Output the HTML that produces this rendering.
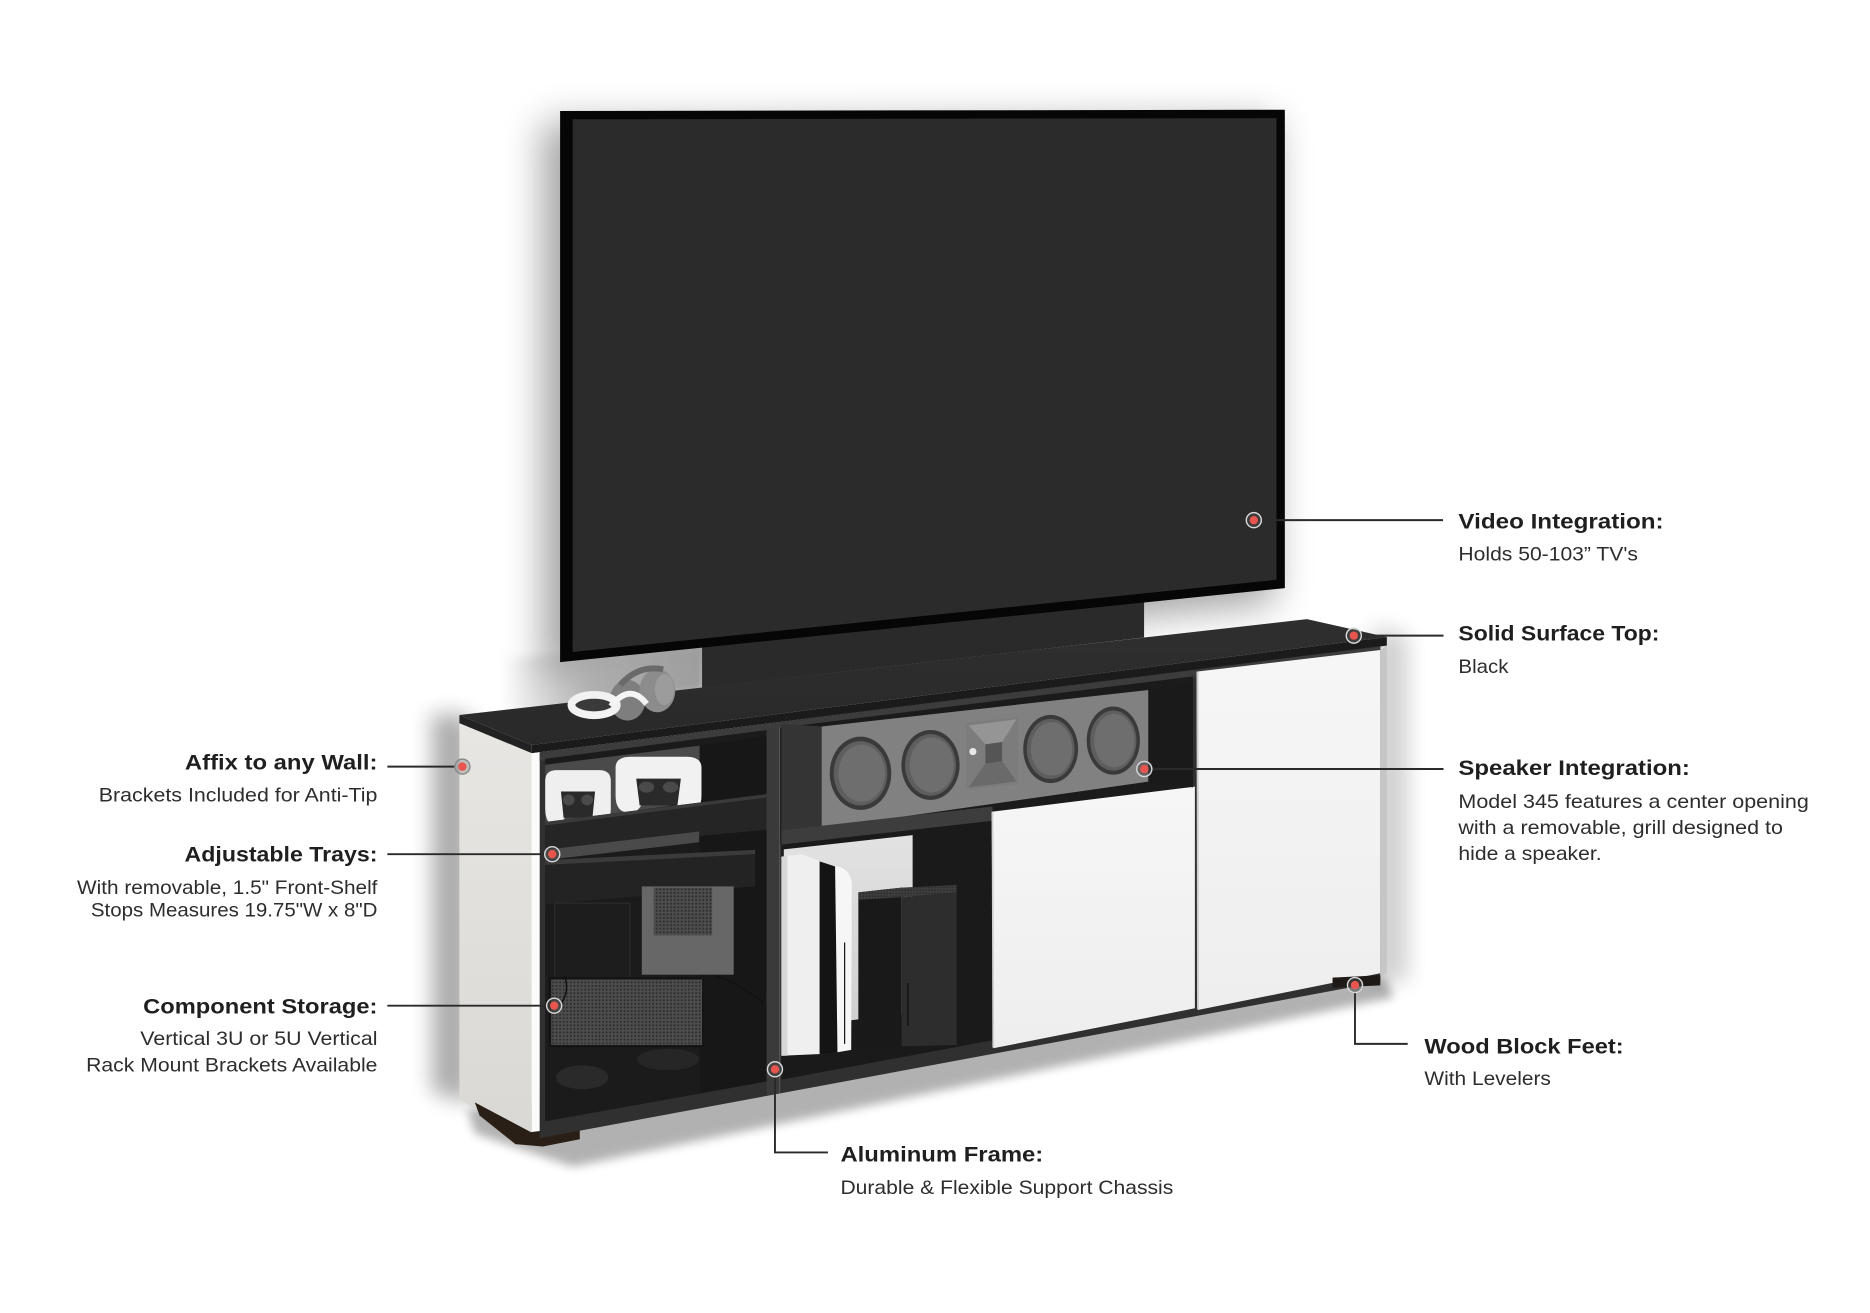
<!DOCTYPE html>
<html><head><meta charset="utf-8">
<style>
html,body{margin:0;padding:0;background:#fff;}
svg{display:block;}
.h{font-family:"Liberation Sans",sans-serif;font-weight:700;font-size:17.5px;fill:#1f1f1f;}
.b{font-family:"Liberation Sans",sans-serif;font-size:16px;fill:#2d2d2d;}
</style></head><body>
<svg width="1870" height="1313" viewBox="0 0 1567.5 1100.6" preserveAspectRatio="none" xmlns="http://www.w3.org/2000/svg">
<defs>
<filter id="b20" x="-50%" y="-50%" width="200%" height="200%"><feGaussianBlur stdDeviation="16"/></filter>
<filter id="b10" x="-50%" y="-50%" width="200%" height="200%"><feGaussianBlur stdDeviation="9"/></filter>
<filter id="b6" x="-50%" y="-50%" width="200%" height="200%"><feGaussianBlur stdDeviation="6"/></filter>
<filter id="b4" x="-50%" y="-50%" width="200%" height="200%"><feGaussianBlur stdDeviation="4"/></filter>
<pattern id="mesh" width="3" height="3" patternUnits="userSpaceOnUse"><rect width="3" height="3" fill="#4c4c4c"/><circle cx="1.5" cy="1.5" r="0.8" fill="#2a2a2a"/></pattern>
<pattern id="grill" width="2.5" height="2.5" patternUnits="userSpaceOnUse"><rect width="2.5" height="2.5" fill="#3e3e3e"/><circle cx="1.25" cy="1.25" r="0.6" fill="#222"/></pattern>
<linearGradient id="side" x1="0" y1="0" x2="0" y2="1"><stop offset="0" stop-color="#e8e6e3"/><stop offset="1" stop-color="#dad8d4"/></linearGradient>
<linearGradient id="door" x1="0" y1="0" x2="0" y2="1"><stop offset="0" stop-color="#f6f6f6"/><stop offset="1" stop-color="#eeeeee"/></linearGradient>
<linearGradient id="top" x1="0" y1="0" x2="0" y2="1"><stop offset="0" stop-color="#2f2f2f"/><stop offset="1" stop-color="#292929"/></linearGradient>
<linearGradient id="back" x1="0" y1="0" x2="0" y2="1"><stop offset="0" stop-color="#e2e2e2"/><stop offset="1" stop-color="#cfcfcf"/></linearGradient>
<linearGradient id="under" gradientUnits="userSpaceOnUse" x1="420" y1="0" x2="592" y2="0"><stop offset="0" stop-color="#a0a0a0" stop-opacity="0"/><stop offset="0.45" stop-color="#a8a8a8" stop-opacity="0.9"/><stop offset="1" stop-color="#9c9c9c"/></linearGradient>
</defs>

<rect width="1567.5" height="1100.6" fill="#fff"/>

<!-- TV shadow -->
<polygon points="455,103 1068,101 1068,505 455,568" fill="#000" opacity="0.36" filter="url(#b20)"/>
<!-- gray area under TV left -->
<polygon points="420,552 592,538 592,580 420,605" fill="url(#under)" filter="url(#b4)"/>
<!-- cabinet wall shadow left -->
<polygon points="362,598 395,600 395,925 362,915" fill="#000" opacity="0.32" filter="url(#b10)"/>
<!-- right side shadow -->
<polygon points="1150,525 1180,532 1180,822 1150,825" fill="#000" opacity="0.18" filter="url(#b10)"/>
<!-- floor shadow -->
<polygon points="392,930 1160,818 1168,836 480,978 398,950" fill="#000" opacity="0.3" filter="url(#b4)"/>

<!-- back stand panel -->
<polygon points="588.5,515 959,478 959,534.4 588.5,576.5" fill="#2a2a2a"/>

<!-- TV -->
<polygon points="469.5,93 1077,92 1077,493 469.5,555" fill="#060606"/>
<polygon points="480,100 1070,99 1070,486 480,546.5" fill="#2b2b2b"/>

<!-- top slab -->
<polygon points="385.1,599.3 1095.5,519 1162.5,534 445.7,624.5" fill="url(#top)"/>
<polygon points="445.7,624.5 1162.5,534 1162.5,541.2 445.7,631.4" fill="#1b1b1b"/>
<polygon points="385.1,599.3 445.7,624.5 445.7,631.4 385.1,606.3" fill="#222"/>

<!-- headphones / VR (on top of slab) -->
<ellipse cx="526" cy="587" rx="15" ry="17" fill="#7e7e7e"/>
<ellipse cx="551" cy="579" rx="15" ry="18" fill="#8c8c8c"/>
<ellipse cx="557" cy="578" rx="8" ry="13" fill="#9c9c9c"/>
<path d="M520,574 Q535,557 556,561" stroke="#6a6a6a" stroke-width="5" fill="none"/>
<ellipse cx="498" cy="591" rx="19" ry="8.5" fill="#3a3a3a" stroke="#f2f2f2" stroke-width="6.5"/>
<path d="M512,592 Q528,572 542,590" stroke="#f4f4f4" stroke-width="5" fill="none"/>

<!-- side panel -->
<polygon points="385.1,606.3 445.7,631.4 445.7,954 385.1,922" fill="url(#side)"/>
<polygon points="445.7,631.4 452.4,630.5 452.4,955 445.7,954" fill="#fbfbfb"/>
<!-- left foot -->
<polygon points="398,924 445,949 486,944 486,955 455,961 432,959 402,935" fill="#2a1f17"/>

<!-- front frame -->
<polygon points="452.4,630.6 1157,541.6 1157,823 452.4,954" fill="#303030"/>
<!-- underside band -->
<polygon points="452.4,631 1157,542 1157,548 452.4,638" fill="#3c3c3c"/>

<!-- LEFT BAY -->
<polygon points="457,636 642.5,612 642.5,906.6 457,940" fill="#1b1b1b"/>
<polygon points="457,641 586.5,625 586.5,672 457,690" fill="#4a4a4a"/>
<polygon points="586.5,625 642.5,617 642.5,906 586.5,916" fill="#171717"/>
<!-- controllers -->
<g transform="translate(457,645.5) scale(1.1,1)">
<path d="M0,9 Q0,0 9,0 H41 Q50,0 50,9 V32 Q50,46 42,46 Q36,46 34,36 H16 Q14,46 8,46 Q0,46 0,32 Z" fill="#efefef"/>
<path d="M12,18 H38 L36,40 H14 Z" fill="#2a2a2a"/>
<circle cx="18" cy="25" r="4.5" fill="#4a4a4a"/><circle cx="32" cy="25" r="4.5" fill="#4a4a4a"/>
</g>
<g transform="translate(516,634.3) scale(1.44,1.02)">
<path d="M0,9 Q0,0 9,0 H41 Q50,0 50,9 V32 Q50,46 42,46 Q36,46 34,36 H16 Q14,46 8,46 Q0,46 0,32 Z" fill="#f1f1f1"/>
<path d="M12,18 H38 L36,40 H14 Z" fill="#2a2a2a"/>
<circle cx="18" cy="25" r="4.5" fill="#4a4a4a"/><circle cx="32" cy="25" r="4.5" fill="#4a4a4a"/>
</g>
<!-- trays -->
<polygon points="457,689 642.5,665.7 642.5,695.6 457,712.4" fill="#252525"/>
<polygon points="457,689 642.5,665.7 642.5,668.5 457,692" fill="#3a3a3a"/>
<polygon points="457,712.4 586,697 586,706 457,721" fill="#4a4a4a"/>
<polygon points="457,721 633,712.4 633,743 457,758" fill="#232323"/>
<polygon points="457,721 633,712.4 633,716 457,725" fill="#3b3b3b"/>
<!-- components -->
<rect x="465" y="757" width="63" height="67" fill="#1d1d1d" stroke="#2c2c2c" stroke-width="1"/>
<rect x="538" y="743" width="77" height="74" fill="#676767"/>
<rect x="548" y="744" width="49" height="40" fill="url(#mesh)"/>
<rect x="461" y="820" width="128.5" height="57" fill="url(#mesh)" stroke="#141414" stroke-width="2"/>
<path d="M470,842 Q478,830 473,818" stroke="#111" stroke-width="1.2" fill="none"/>
<path d="M600,818 Q620,825 640,840" stroke="#111" stroke-width="1.2" fill="none"/>
<!-- bottom controllers -->
<ellipse cx="488" cy="903" rx="22" ry="10" fill="#2a2a2a"/>
<ellipse cx="560" cy="888" rx="26" ry="9" fill="#262626"/>

<!-- post -->
<polygon points="642.5,611 654,609.5 654,916 642.5,918.6" fill="#3a3a3a"/>
<line x1="653.5" y1="610" x2="653.5" y2="916" stroke="#555" stroke-width="1"/>

<!-- MIDDLE BAY upper -->
<polygon points="654,610 1000,567 1000,662 654,708" fill="#1b1b1b"/>
<!-- speaker side -->
<polygon points="655,607 689,609 689,694.3 655,697" fill="#343434"/>
<!-- speaker face -->
<polygon points="688.8,609 962.5,578.4 962.5,655.2 688.8,694.3" fill="#818181"/>
<!-- woofers -->
<g>
<ellipse cx="721.3" cy="648.2" rx="25.8" ry="30.7" fill="#3a3a3a"/>
<ellipse cx="721.3" cy="648.2" rx="22.5" ry="27" fill="#5e5e5e"/>
<ellipse cx="722.3" cy="648.2" rx="19.5" ry="24" fill="#6e6e6e"/>
<ellipse cx="780" cy="641.2" rx="24.4" ry="29.3" fill="#3a3a3a"/>
<ellipse cx="780" cy="641.2" rx="21.3" ry="25.8" fill="#5e5e5e"/>
<ellipse cx="781" cy="641.2" rx="18.5" ry="23" fill="#6e6e6e"/>
<ellipse cx="880.7" cy="627.8" rx="23" ry="28.6" fill="#3a3a3a"/>
<ellipse cx="880.7" cy="627.8" rx="20" ry="25.2" fill="#5e5e5e"/>
<ellipse cx="881.5" cy="627.8" rx="17.4" ry="22.4" fill="#6e6e6e"/>
<ellipse cx="933.2" cy="620.8" rx="22.3" ry="28.6" fill="#3a3a3a"/>
<ellipse cx="933.2" cy="620.8" rx="19.4" ry="25.2" fill="#5e5e5e"/>
<ellipse cx="934" cy="620.8" rx="16.9" ry="22.4" fill="#6e6e6e"/>
</g>
<!-- horn -->
<polygon points="810,606 853.6,601 853.6,657 810,662" fill="#7c7c7c"/>
<polygon points="812,608 852,603 840,622 826,624" fill="#959595"/>
<polygon points="812,660 852,655 840,638 826,640" fill="#6a6a6a"/>
<polygon points="826,624 840,622 840,638 826,640" fill="#555"/>
<circle cx="815.5" cy="630" r="3" fill="#e8e8e8"/>

<!-- shelf under speaker -->
<polygon points="655,696 832,676 832,689 655,710" fill="#3d3d3d"/>

<!-- lower middle compartment -->
<polygon points="655,708 832,688 832,872 655,905" fill="#1a1a1a"/>
<polygon points="657,712 765,700 765,849 657,862" fill="url(#back)"/>
<!-- xbox -->
<polygon points="719.5,748 755.8,744 755.8,877.3 719.5,877.3" fill="#191919"/>
<polygon points="755.8,752 801.9,748 801.9,876 755.8,877" fill="#2d2d2d"/>
<polygon points="719.5,748 755.8,744 801.9,741.8 801.9,748 755.8,752 719.5,754.3" fill="url(#grill)"/>
<line x1="761" y1="824" x2="761" y2="860" stroke="#111" stroke-width="1.2"/>
<!-- ps5 -->
<polygon points="655,718 672,716 688,722 688,883.5 655,885" fill="#efefef"/>
<polygon points="655,718 660,717.5 660,885 655,885" fill="#d6d6d6"/>
<polygon points="687,722 702,727 702,882 687,883.5" fill="#141414"/>
<path d="M700,726 Q712,727 714,740 L713.5,880 L702,882 Z" fill="#f6f6f6"/>
<line x1="708" y1="790" x2="708" y2="875" stroke="#111" stroke-width="1"/>

<!-- middle door -->
<polygon points="831.2,680.4 1001.6,659.4 1001.6,845.2 832.6,878.7" fill="url(#door)"/>
<line x1="832" y1="681" x2="832.6" y2="878" stroke="#d2d2d2" stroke-width="1.5"/>
<!-- right interior strip -->
<polygon points="963,578 1000,573 1000,660 963,655" fill="#1a1a1a"/>
<!-- right door -->
<polygon points="1003,563 1157,544.8 1157,815.8 1004,846.6" fill="url(#door)"/>
<line x1="1003.8" y1="563" x2="1004.2" y2="846" stroke="#cdcdcd" stroke-width="1.6"/>
<!-- right side edge -->
<polygon points="1157,544.8 1162.5,541.2 1162.5,816 1157,818" fill="#c6c6c6"/>
<!-- right foot -->
<polygon points="1117,819.5 1157,817.5 1157,826 1117,828" fill="#1e1a18"/>

<!-- CONNECTORS -->
<g stroke="#2a2a2a" stroke-width="1.6" fill="none">
<line x1="1057" y1="436" x2="1209.6" y2="436"/>
<line x1="1141" y1="532.8" x2="1210" y2="532.8"/>
<line x1="965.4" y1="644.6" x2="1210" y2="644.6"/>
<path d="M1135.8,832 V875 H1180"/>
<path d="M649.6,902.5 V966 H694"/>
<line x1="324.7" y1="642.6" x2="381.4" y2="642.6"/>
<line x1="324.7" y1="716" x2="456.7" y2="716"/>
<line x1="324.7" y1="843" x2="458.3" y2="843"/>
</g>
<!-- DOTS -->
<g>
<g transform="translate(1051,436)"><circle r="6.3" fill="#4a4a4a" fill-opacity="0.55" stroke="#d8d8d8" stroke-width="1.2"/><circle r="3.5" fill="#e8554e"/></g>
<g transform="translate(1134.8,532.8)"><circle r="6.3" fill="#4a4a4a" fill-opacity="0.55" stroke="#d8d8d8" stroke-width="1.2"/><circle r="3.5" fill="#e8554e"/></g>
<g transform="translate(959.2,644.6)"><circle r="6.3" fill="#4a4a4a" fill-opacity="0.55" stroke="#d8d8d8" stroke-width="1.2"/><circle r="3.5" fill="#e8554e"/></g>
<g transform="translate(1135.8,825.7)"><circle r="6.3" fill="#4a4a4a" fill-opacity="0.55" stroke="#d8d8d8" stroke-width="1.2"/><circle r="3.5" fill="#e8554e"/></g>
<g transform="translate(649.6,896.3)"><circle r="6.3" fill="#4a4a4a" fill-opacity="0.55" stroke="#d8d8d8" stroke-width="1.2"/><circle r="3.5" fill="#e8554e"/></g>
<g transform="translate(387.6,642.6)"><circle r="6.3" fill="#9a9a9a" fill-opacity="0.5" stroke="#8a8a8a" stroke-width="1.2"/><circle r="3.5" fill="#e8554e"/></g>
<g transform="translate(462.9,716)"><circle r="6.3" fill="#4a4a4a" fill-opacity="0.55" stroke="#d8d8d8" stroke-width="1.2"/><circle r="3.5" fill="#e8554e"/></g>
<g transform="translate(464.5,843)"><circle r="6.3" fill="#4a4a4a" fill-opacity="0.55" stroke="#d8d8d8" stroke-width="1.2"/><circle r="3.5" fill="#e8554e"/></g>
</g>

<!-- RIGHT LABELS -->
<text class="h" x="1222.5" y="443" textLength="172" lengthAdjust="spacingAndGlyphs">Video Integration:</text>
<text class="b" x="1222.5" y="470" textLength="150.5" lengthAdjust="spacingAndGlyphs">Holds 50-103” TV's</text>
<text class="h" x="1222.5" y="537" textLength="168.5" lengthAdjust="spacingAndGlyphs">Solid Surface Top:</text>
<text class="b" x="1222.5" y="564" textLength="42" lengthAdjust="spacingAndGlyphs">Black</text>
<text class="h" x="1222.5" y="649.6" textLength="194" lengthAdjust="spacingAndGlyphs">Speaker Integration:</text>
<text class="b" x="1222.5" y="677.5" textLength="293.7" lengthAdjust="spacingAndGlyphs">Model 345 features a center opening</text>
<text class="b" x="1222.5" y="699.2" textLength="272" lengthAdjust="spacingAndGlyphs">with a removable, grill designed to</text>
<text class="b" x="1222.5" y="721" textLength="120" lengthAdjust="spacingAndGlyphs">hide a speaker.</text>
<text class="h" x="1194" y="883" textLength="167" lengthAdjust="spacingAndGlyphs">Wood Block Feet:</text>
<text class="b" x="1194" y="909.5" textLength="106" lengthAdjust="spacingAndGlyphs">With Levelers</text>
<text class="h" x="704.5" y="973.5" textLength="170" lengthAdjust="spacingAndGlyphs">Aluminum Frame:</text>
<text class="b" x="704.5" y="1001" textLength="279" lengthAdjust="spacingAndGlyphs">Durable &amp; Flexible Support Chassis</text>

<!-- LEFT LABELS -->
<text class="h" x="155" y="644.9" textLength="161.4" lengthAdjust="spacingAndGlyphs">Affix to any Wall:</text>
<text class="b" x="82.8" y="672" textLength="233.6" lengthAdjust="spacingAndGlyphs">Brackets Included for Anti-Tip</text>
<text class="h" x="154.7" y="722.3" textLength="161.7" lengthAdjust="spacingAndGlyphs">Adjustable Trays:</text>
<text class="b" x="64.6" y="749.4" textLength="251.8" lengthAdjust="spacingAndGlyphs">With removable, 1.5" Front-Shelf</text>
<text class="b" x="76.2" y="768.4" textLength="240.2" lengthAdjust="spacingAndGlyphs">Stops Measures 19.75"W x 8"D</text>
<text class="h" x="120" y="849.4" textLength="196.4" lengthAdjust="spacingAndGlyphs">Component Storage:</text>
<text class="b" x="117.6" y="876" textLength="198.8" lengthAdjust="spacingAndGlyphs">Vertical 3U or 5U Vertical</text>
<text class="b" x="72.2" y="898.3" textLength="244.2" lengthAdjust="spacingAndGlyphs">Rack Mount Brackets Available</text>
</svg>
</body></html>
